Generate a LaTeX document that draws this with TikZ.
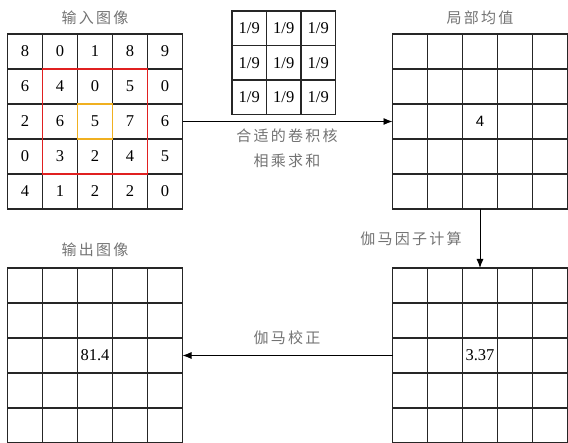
\documentclass[tikz,border=0pt]{standalone}
\usepackage{fontspec}
\setmainfont{Liberation Serif}
\newfontfamily\cjk[LetterSpace=15]{Noto Sans CJK SC}
\newfontfamily\arialf{Liberation Sans}
\usetikzlibrary{arrows.meta}
\newcommand\cellgrid[5]{%
  \foreach \r in {1,...,#5}{\foreach \c in {1,...,#5}{%
    \node[cell=#4pt] (#1-\r-\c) at ({#2+(\c-0.5)*#4},{#3+(\r-0.5)*#4}) {};}}}
\begin{document}
\begin{tikzpicture}[x=1pt,y=-1pt,
  cell/.style={draw=black!85, line width=1.1pt, minimum size=#1, inner sep=0pt, outer sep=0pt},
  num/.style={font=\fontsize{16.5}{16.5}\selectfont, inner sep=0pt},
  sansnum/.style={font=\arialf\fontsize{15}{15}\selectfont, inner sep=0pt},
  lab/.style={font=\cjk\fontsize{15}{15}\selectfont, text=black!55, inner sep=0pt},
  flow/.style={line width=0.9pt, black, -{Latex[length=9pt,width=7pt]}},
  win/.style={line width=1.4pt}]
\useasboundingbox (0,0) rectangle (568,443);

% grids
\cellgrid{in}{7.5}{34}{35}{5}
\cellgrid{k}{232}{11}{34.5}{3}
\cellgrid{lm}{392.5}{34}{35}{5}
\cellgrid{gm}{392.5}{268}{35}{5}
\cellgrid{out}{7.5}{268}{35}{5}

% input values
\foreach \row [count=\r] in {{8,0,1,8,9},{6,4,0,5,0},{2,6,5,7,6},{0,3,2,4,5},{4,1,2,2,0}}{
  \foreach \v [count=\c] in \row {\node[num] (inv-\r-\c) at (in-\r-\c) {\v};}}
% kernel values
\foreach \r in {1,2,3}{\foreach \c in {1,2,3}{\node[num] (kv-\r-\c) at (k-\r-\c) {1/9};}}
\node[sansnum] (lmv) at (lm-3-3) {4};
\node[num] (gmv) at (gm-3-3) {3.37};
\node[num] (outv) at (out-3-3) {81.4};

% windows
\draw[win, draw={rgb,255:red,224;green,32;blue,32}] (in-2-2.north west) rectangle (in-4-4.south east);
\draw[win, draw={rgb,255:red,240;green,176;blue,32}] (in-3-3.north west) rectangle (in-3-3.south east);

% titles
\node[lab] (t-in) at (95,18) {输入图像};
\node[lab] (t-lm) at (480,18) {局部均值};
\node[lab] (t-out) at (95,250) {输出图像};

% arrows
\draw[flow] (in-3-5.east) -- (lm-3-1.west);
\draw[flow] (lm-5-3.south) -- (gm-1-3.north);
\draw[flow] (gm-3-1.west) -- (out-3-5.east);

% arrow labels
\node[lab] (l1a) at (287,136) {合适的卷积核};
\node[lab] (l1b) at (287,161) {相乘求和};
\node[lab] (l2) at (411,239) {伽马因子计算};
\node[lab] (l3) at (287,338) {伽马校正};
\end{tikzpicture}
\end{document}
